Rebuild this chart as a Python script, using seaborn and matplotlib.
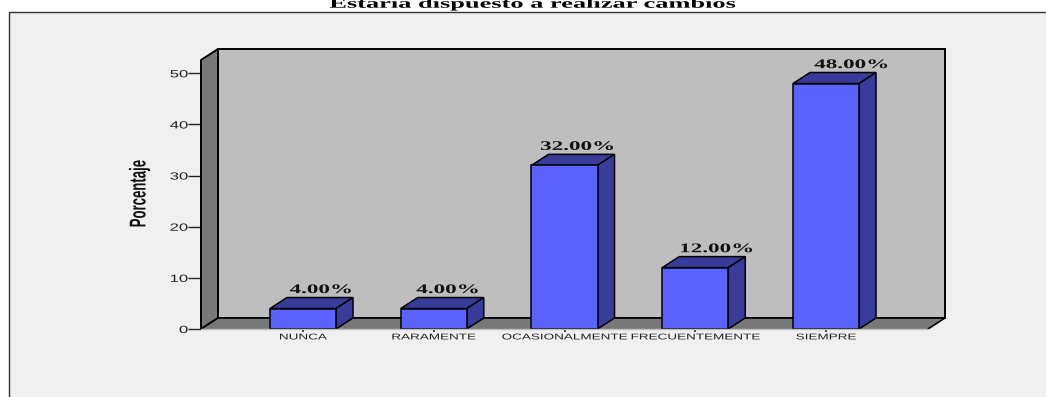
import numpy as np
import pandas as pd
import matplotlib
matplotlib.use("Agg")
import matplotlib.pyplot as plt
import matplotlib.patheffects as pe
from matplotlib.lines import Line2D
from matplotlib.patches import Polygon, Rectangle
from matplotlib.transforms import Affine2D
import seaborn as sns

# ---------- data ----------
categorias = ["NUNCA", "RARAMENTE", "OCASIONALMENTE", "FRECUENTEMENTE", "SIEMPRE"]
porcentajes = [4, 4, 32, 12, 48]
etiquetas = ["4.00%", "4.00%", "32.00%", "12.00%", "48.00%"]
yticks = [0, 10, 20, 30, 40, 50]

# ---------- colores ----------
fondo = "#F0F0F0"
pared = "#BEBEBE"
piso = "#787878"
azul = "#5B63FF"
azul_osc = "#383B9A"
W, H = 1046, 397


class Stretch(pe.AbstractPathEffect):
    # ensancha el texto en horizontal, el original esta estirado
    def __init__(self, sx, anchor="center"):
        super().__init__()
        self.sx = sx
        self.anchor = anchor

    def draw_path(self, renderer, gc, tpath, affine, rgbFace=None):
        ext = tpath.get_extents()
        cx = ext.x1 if self.anchor == "right" else (ext.x0 + ext.x1) / 2
        t = Affine2D().translate(-cx, 0).scale(self.sx, 1).translate(cx, 0) + affine
        renderer.draw_path(gc, tpath, t, rgbFace)


df = pd.DataFrame({"cat": categorias, "pct": porcentajes})

sns.set_style("white")
plt.rcParams["font.family"] = ["Liberation Sans", "DejaVu Sans"]
fig = plt.figure(figsize=(W / 100, H / 100), dpi=100, facecolor="white")

# marco gris del fondo, solo arriba y a la izquierda
fig.add_artist(Rectangle((9 / W, 0), (W - 9) / W, (H - 12) / H, transform=fig.transFigure,
                         facecolor=fondo, edgecolor="none", zorder=-2))
fig.add_artist(Line2D([9 / W, 9 / W, 1], [0, (H - 12) / H, (H - 12) / H], transform=fig.transFigure,
                      color="#333333", lw=1.0, zorder=-1))

# los ejes son el plano frontal del grafico
left, right, bottom, top = 201, 928, 329, 60
ax = fig.add_axes([left / W, 1 - bottom / H, (right - left) / W, (bottom - top) / H])
ax.patch.set_alpha(0)

sns.barplot(data=df, x="cat", y="pct", ax=ax, width=0.505, color=azul, saturation=1,
            edgecolor="black", linewidth=1.1, zorder=5)

ax.set_xlim(-0.78, 4.78)
ax.set_ylim(0, 52.6)
ax.set_yticks(yticks)
for s in ax.spines.values():
    s.set_visible(False)
ax.spines["bottom"].set_visible(True)
ax.spines["bottom"].set_color("#BDBDBD")
ax.spines["bottom"].set_linewidth(1.0)
ax.spines["bottom"].set_zorder(6)

# profundidad en unidades de datos
dx = 17 / 130.75
dy = 11 / 5.11
x0, x1 = ax.get_xlim()
y0, y1 = ax.get_ylim()
kw = dict(clip_on=False, edgecolor="black", linewidth=1.4, joinstyle="miter")

ax.add_patch(Polygon([(x0 + dx, y0 + dy), (x1 + dx, y0 + dy), (x1 + dx, y1 + dy), (x0 + dx, y1 + dy)],
                     facecolor=pared, zorder=1, **kw))
ax.add_patch(Polygon([(x0, y0), (x0 + dx, y0 + dy), (x0 + dx, y1 + dy), (x0, y1)],
                     facecolor=piso, zorder=2, **kw))
# piso sin linea negra delante
ax.add_patch(Polygon([(x0, y0), (x1, y0), (x1 + dx, y0 + dy), (x0 + dx, y0 + dy)],
                     facecolor=piso, edgecolor="none", zorder=2, clip_on=False))
ax.plot([x1, x1 + dx, x0 + dx, x0], [y0, y0 + dy, y0 + dy, y0], color="black", lw=1.2, zorder=2.5,
        clip_on=False, scalex=False, scaley=False)

# desplazamiento de cada etiqueta respecto a la barra, en pixeles
desfase = [18, 14, 13, 21.5, 25.5]

# cara superior, lateral y etiqueta de cada barra
for bar, txt, d in zip(list(ax.patches)[:len(categorias)], etiquetas, desfase):
    a = bar.get_x()
    b = a + bar.get_width()
    h = bar.get_height()
    ax.add_patch(Polygon([(a, h), (b, h), (b + dx, h + dy), (a + dx, h + dy)],
                         facecolor=azul_osc, zorder=4, clip_on=False, edgecolor="black",
                         linewidth=1.1))
    ax.add_patch(Polygon([(b, 0), (b + dx, dy), (b + dx, h + dy), (b, h)],
                         facecolor=azul_osc, zorder=4, clip_on=False, edgecolor="black",
                         linewidth=1.1))
    t = ax.annotate(txt, ((a + b) / 2, h + dy), xytext=(d * 0.72, 3.2), textcoords="offset points",
                    ha="center", va="baseline", fontsize=9.5, fontweight="bold",
                    family="Liberation Serif", color="#111111", zorder=6)
    t.set_path_effects([Stretch(1.75)])

ax.set_xlabel("")
ax.set_ylabel("Porcentaje", fontsize=16.5, fontweight="bold", labelpad=0, color="#111111")
ax.yaxis.set_label_coords((150.5 - left) / (right - left), (329 - 194) / (bottom - top),
                          transform=ax.transAxes)
ax.yaxis.label.set_path_effects([Stretch(0.575)])

ax.tick_params(axis="y", length=9.4, width=1.0, color="#222222", pad=0, labelsize=7.5, left=True,
               labelcolor="#222222")
ax.tick_params(axis="x", length=2.4, width=1.2, color="#222222", pad=1.5, labelsize=6, bottom=True,
               labelcolor="#222222")
for lab in ax.get_yticklabels():
    lab.set_path_effects([Stretch(1.6, anchor="right")])
for lab in ax.get_xticklabels():
    lab.set_path_effects([Stretch(1.62)])

# titulo, cortado por el borde superior como en el original
tit = fig.text(533 / W, 1 - 7.7 / H, "Estaria dispuesto a realizar cambios", ha="center", va="baseline",
               fontsize=10, fontweight="bold", family="Liberation Serif", color="black")
tit.set_path_effects([Stretch(1.9)])

fig.savefig("out.png", dpi=100, facecolor="white")
